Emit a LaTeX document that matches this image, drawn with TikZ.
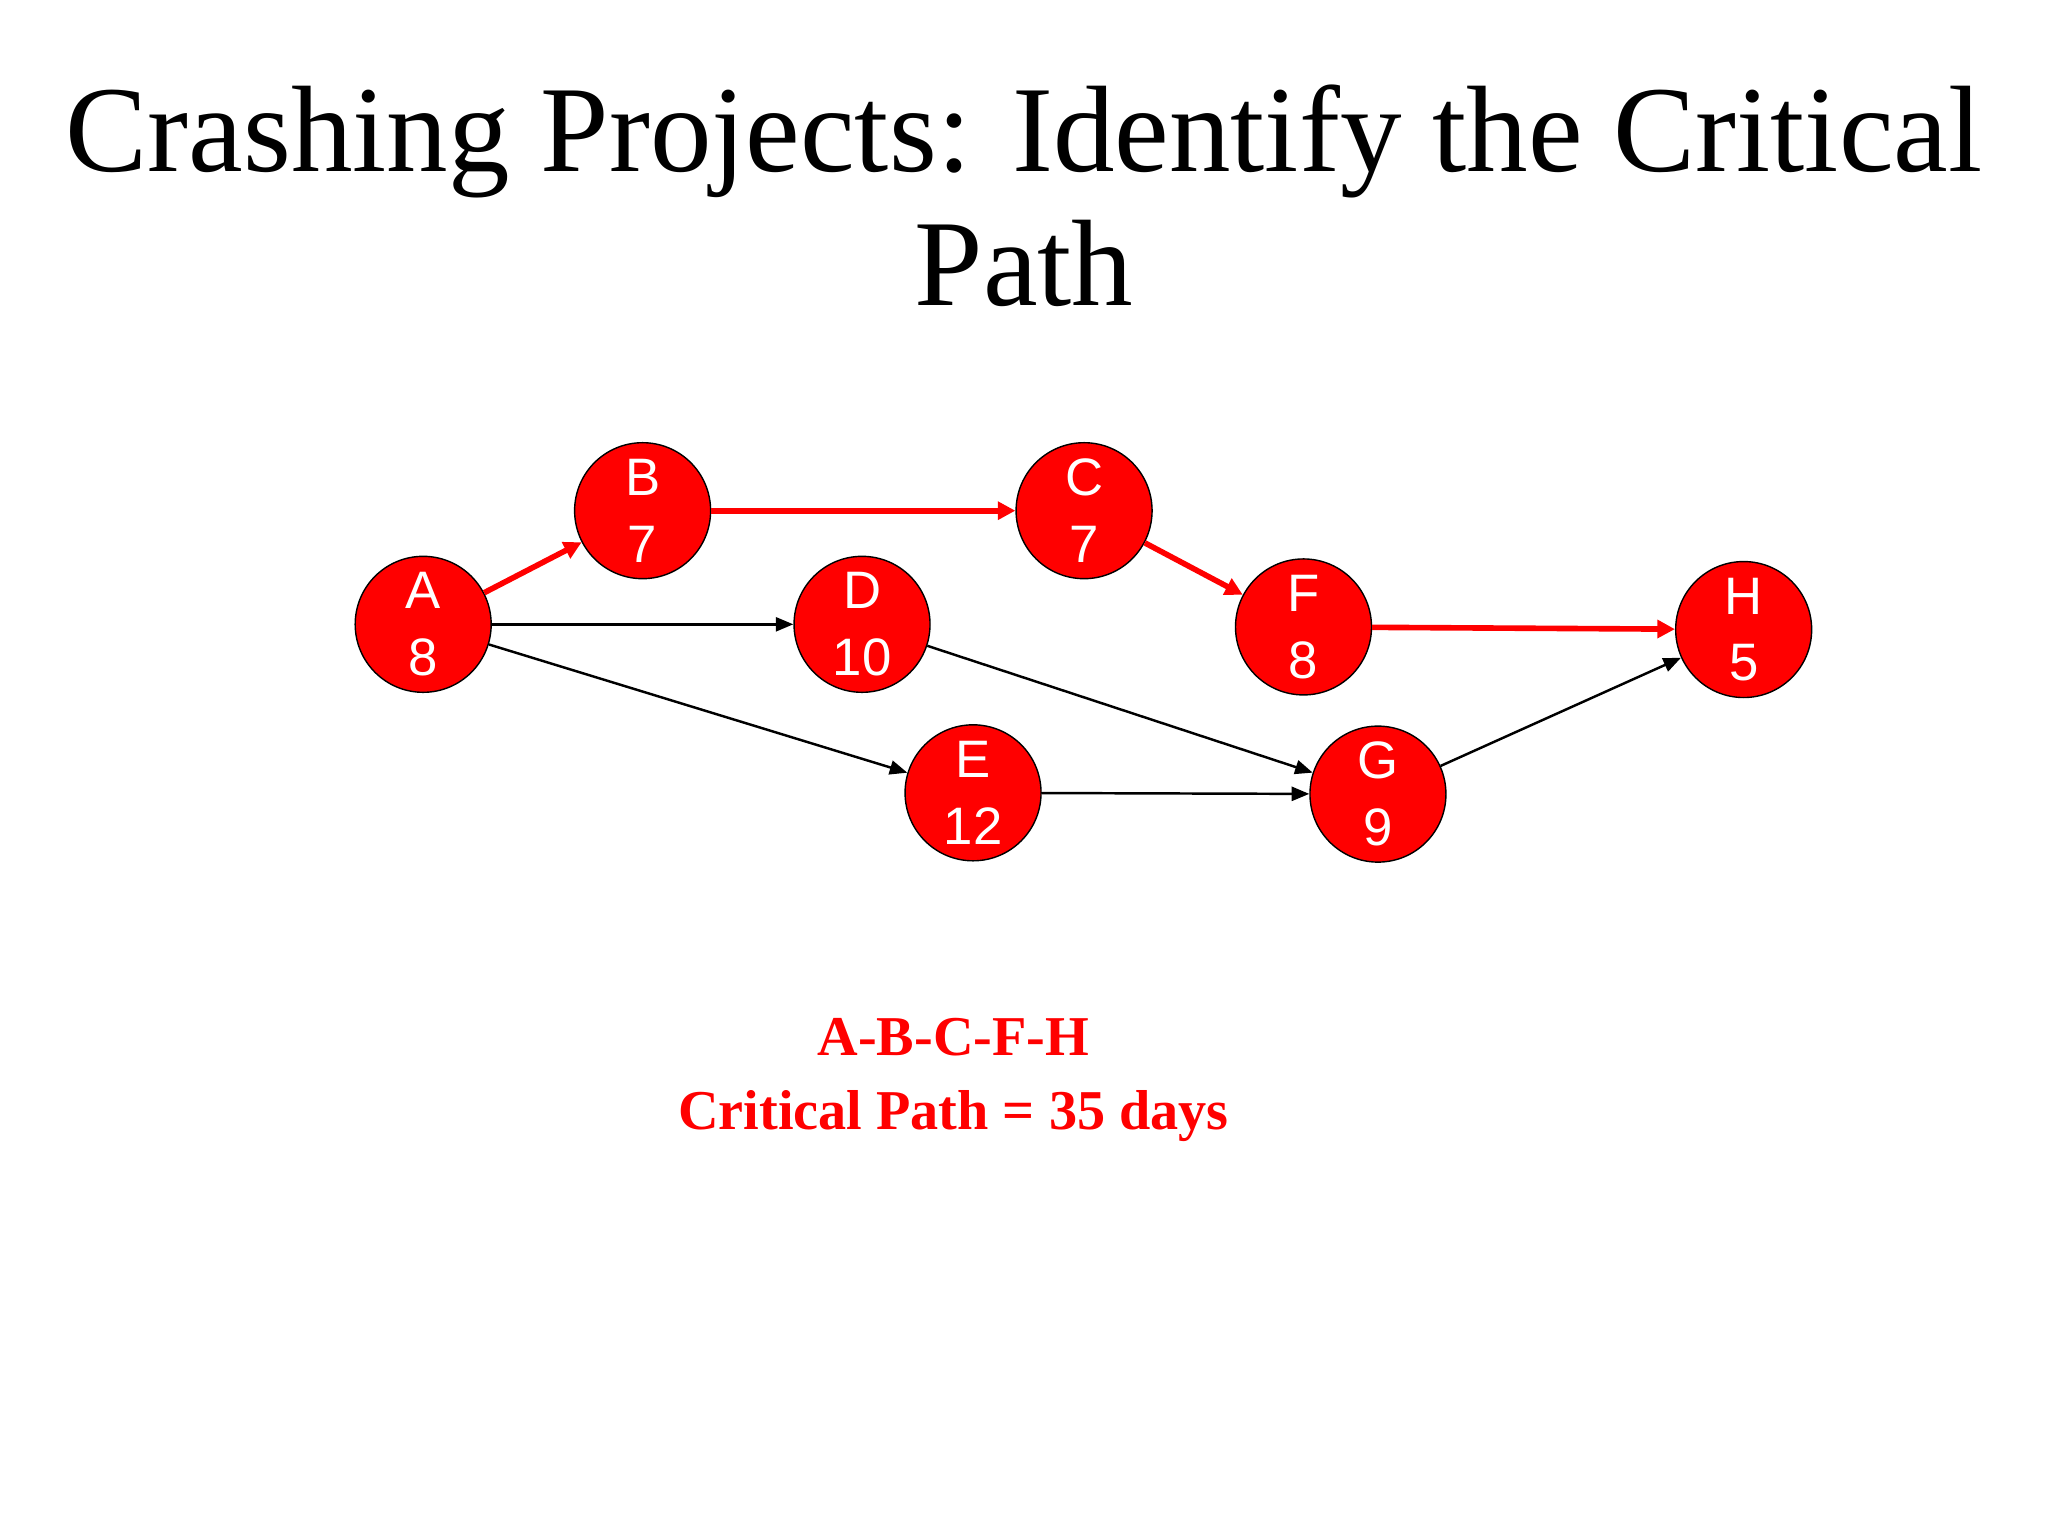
\documentclass[tikz,border=0pt]{standalone}
\usepackage{fontspec}
\setmainfont{Liberation Serif}
\newfontfamily\arialf{Liberation Sans}
\usetikzlibrary{arrows.meta}
\definecolor{nred}{RGB}{255,0,0}
\tikzset{
 task/.style={circle,draw=black,fill=nred,minimum size=1.36cm,inner sep=0pt,text=white,font=\arialf\fontsize{15}{19}\selectfont,align=center},
 crit/.style={draw=nred,line width=1.6pt,-{Triangle[length=5pt,width=5pt]}},
 norm/.style={draw=black,line width=0.7pt,-{Triangle[length=5pt,width=4pt]}}
}
\begin{document}
\begin{tikzpicture}[x=0.01306cm,y=-0.01306cm]
\useasboundingbox (0,0) rectangle (1568,1176);
\node[font=\fontsize{35}{38}\selectfont,align=center] (title) at (784,150) {Crashing Projects: Identify the Critical\\Path};
\node[task] (A) at (324,478) {A\\8};
\node[task] (B) at (492,391) {B\\7};
\node[task] (C) at (830,391) {C\\7};
\node[task] (D) at (660,478) {D\\10};
\node[task] (F) at (998,480) {F\\8};
\node[task] (H) at (1335,482) {H\\5};
\node[task] (E) at (745,607) {E\\12};
\node[task] (G) at (1055,608) {G\\9};
\draw[crit] (A) -- (B);
\draw[crit] (B) -- (C);
\draw[crit] (C) -- (F);
\draw[crit] (F) -- (H);
\draw[norm] (A) -- (D);
\draw[norm] (A) -- (E);
\draw[norm] (D) -- (G);
\draw[norm] (E) -- (G);
\draw[norm] (G) -- (H);
\node[font=\bfseries\fontsize{16}{21}\selectfont,text=nred,align=center] (cp) at (730,827) {A-B-C-F-H\\Critical Path = 35 days};
\end{tikzpicture}
\end{document}
